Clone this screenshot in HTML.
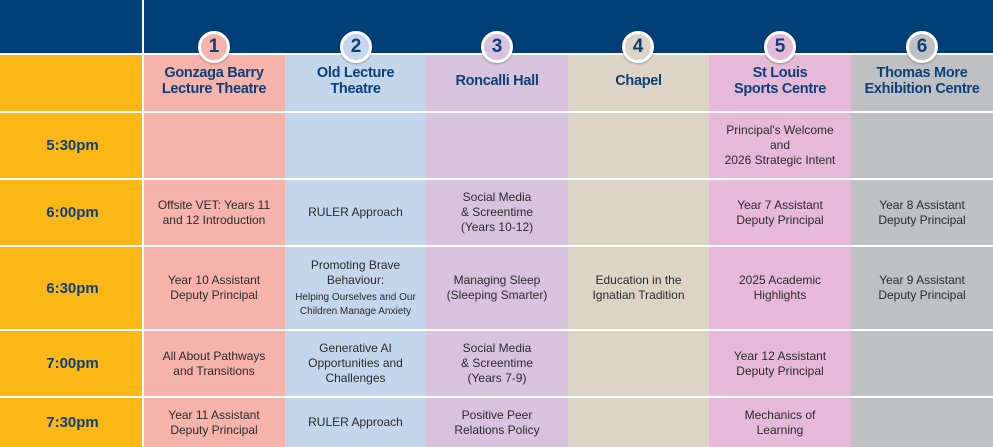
<!DOCTYPE html>
<html><head><style>
*{margin:0;padding:0;box-sizing:border-box}
body{width:993px;height:447px;position:relative;overflow:hidden;background:#fff;font-family:"Liberation Sans",sans-serif}
.c{position:absolute;display:flex;align-items:center;justify-content:center;text-align:center;flex-direction:column}
.t{font-size:12px;color:#2b2b2b;line-height:15px}
.h{font-weight:bold;font-size:14.5px;color:#0d3f78;line-height:16px;letter-spacing:-0.3px}
.tm{font-weight:bold;font-size:15px;color:#0d3f78}
.circ{position:absolute;width:32px;height:32px;border-radius:50%;border:3px solid #fff;top:31px;display:flex;align-items:center;justify-content:center;font-weight:bold;font-size:19px;color:#0d3f78;box-shadow:0 1px 2px rgba(0,0,0,.3)}
.hl{position:absolute;left:0;width:993px;height:2px;background:#fff}
.s{font-size:10px;line-height:14px;margin-top:3px}
</style></head><body>
<div style="position:absolute;left:0;top:0;width:993px;height:54px;background:#023f77"></div>
<div style="position:absolute;left:0;top:54px;width:143px;height:393px;background:#fbb715"></div>
<div style="position:absolute;left:143px;top:54px;width:142px;height:393px;background:#f6b3ab"></div>
<div style="position:absolute;left:285px;top:54px;width:141px;height:393px;background:#c3d6ec"></div>
<div style="position:absolute;left:426px;top:54px;width:142px;height:393px;background:#d8c3df"></div>
<div style="position:absolute;left:568px;top:54px;width:141px;height:393px;background:#dcd5c6"></div>
<div style="position:absolute;left:709px;top:54px;width:142px;height:393px;background:#e6b9d8"></div>
<div style="position:absolute;left:851px;top:54px;width:142px;height:393px;background:#bfc0c3"></div>
<div style="position:absolute;left:142px;top:0;width:2px;height:447px;background:#fff"></div>
<div class="hl" style="top:53px"></div><div class="hl" style="top:111px"></div><div class="hl" style="top:178px"></div><div class="hl" style="top:245px"></div><div class="hl" style="top:329px"></div><div class="hl" style="top:396px"></div>

<div class="circ" style="left:198px;background:#f6b3ab">1</div>
<div class="circ" style="left:340px;background:#c3d6ec">2</div>
<div class="circ" style="left:481px;background:#d8c3df">3</div>
<div class="circ" style="left:622px;background:#dcd5c6">4</div>
<div class="circ" style="left:764px;background:#e6b9d8">5</div>
<div class="circ" style="left:906px;background:#bfc0c3">6</div>

<div class="c h" style="left:143px;top:64px;width:142px;height:34px">Gonzaga Barry<br>Lecture Theatre</div>
<div class="c h" style="left:285px;top:64px;width:141px;height:34px">Old Lecture<br>Theatre</div>
<div class="c h" style="left:426px;top:64px;width:142px;height:34px">Roncalli Hall</div>
<div class="c h" style="left:568px;top:64px;width:141px;height:34px">Chapel</div>
<div class="c h" style="left:709px;top:64px;width:142px;height:34px">St Louis<br>Sports Centre</div>
<div class="c h" style="left:851px;top:64px;width:142px;height:34px">Thomas More<br>Exhibition Centre</div>

<div class="c tm" style="left:0;top:113px;width:145px;height:65px">5:30pm</div>
<div class="c tm" style="left:0;top:180px;width:145px;height:65px">6:00pm</div>
<div class="c tm" style="left:0;top:247px;width:145px;height:82px">6:30pm</div>
<div class="c tm" style="left:0;top:331px;width:145px;height:65px">7:00pm</div>
<div class="c tm" style="left:0;top:398px;width:145px;height:49px">7:30pm</div>

<div class="c t" style="left:709px;top:113px;width:142px;height:65px">Principal's Welcome<br>and<br>2026 Strategic Intent</div>

<div class="c t" style="left:143px;top:180px;width:142px;height:65px">Offsite VET: Years 11<br>and 12 Introduction</div>
<div class="c t" style="left:285px;top:180px;width:141px;height:65px">RULER Approach</div>
<div class="c t" style="left:426px;top:180px;width:142px;height:65px">Social Media<br>&amp; Screentime<br>(Years 10-12)</div>
<div class="c t" style="left:709px;top:180px;width:142px;height:65px">Year 7 Assistant<br>Deputy Principal</div>
<div class="c t" style="left:851px;top:180px;width:142px;height:65px">Year 8 Assistant<br>Deputy Principal</div>

<div class="c t" style="left:143px;top:247px;width:142px;height:82px">Year 10 Assistant<br>Deputy Principal</div>
<div class="c t" style="left:285px;top:247px;width:141px;height:82px"><div>Promoting Brave<br>Behaviour:</div><div class="s">Helping Ourselves and Our<br>Children Manage Anxiety</div></div>
<div class="c t" style="left:426px;top:247px;width:142px;height:82px">Managing Sleep<br>(Sleeping Smarter)</div>
<div class="c t" style="left:568px;top:247px;width:141px;height:82px">Education in the<br>Ignatian Tradition</div>
<div class="c t" style="left:709px;top:247px;width:142px;height:82px">2025 Academic<br>Highlights</div>
<div class="c t" style="left:851px;top:247px;width:142px;height:82px">Year 9 Assistant<br>Deputy Principal</div>

<div class="c t" style="left:143px;top:331px;width:142px;height:65px">All About Pathways<br>and Transitions</div>
<div class="c t" style="left:285px;top:331px;width:141px;height:65px">Generative AI<br>Opportunities and<br>Challenges</div>
<div class="c t" style="left:426px;top:331px;width:142px;height:65px">Social Media<br>&amp; Screentime<br>(Years 7-9)</div>
<div class="c t" style="left:709px;top:331px;width:142px;height:65px">Year 12 Assistant<br>Deputy Principal</div>

<div class="c t" style="left:143px;top:398px;width:142px;height:49px">Year 11 Assistant<br>Deputy Principal</div>
<div class="c t" style="left:285px;top:398px;width:141px;height:49px">RULER Approach</div>
<div class="c t" style="left:426px;top:398px;width:142px;height:49px">Positive Peer<br>Relations Policy</div>
<div class="c t" style="left:709px;top:398px;width:142px;height:49px">Mechanics of<br>Learning</div>
</body></html>
